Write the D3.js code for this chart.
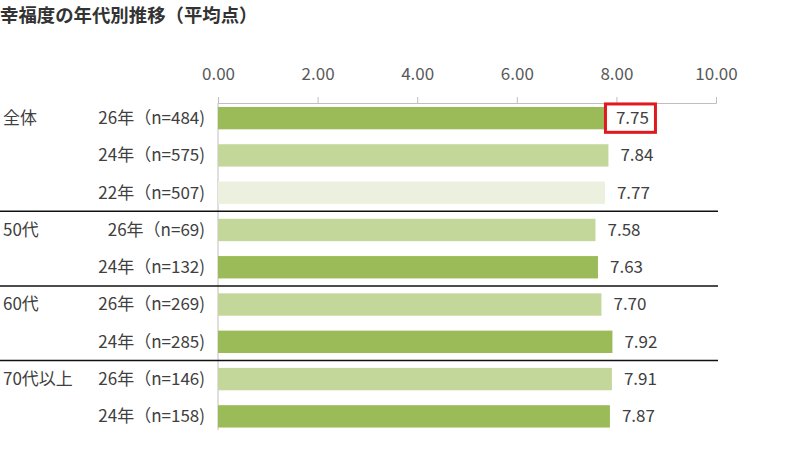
<!DOCTYPE html>
<html><head><meta charset="utf-8">
<script src="https://cdn.jsdelivr.net/npm/d3@7"></script>
<style>body{margin:0;background:#fff;}svg{display:block;font-family:"Noto Sans CJK JP","Noto Sans",sans-serif;}</style>
</head><body><svg id="c" width="800" height="450"></svg>
<script>
const title = "幸福度の年代別推移（平均点）";
const groups = ["全体", "全体", "全体", "50代", "50代", "60代", "60代", "70代以上", "70代以上"];
const rowLabels = ["26年（n=484)", "24年（n=575)", "22年（n=507)", "26年（n=69)", "24年（n=132)", "26年（n=269)", "24年（n=285)", "26年（n=146)", "24年（n=158)"];
const values = [7.75, 7.84, 7.77, 7.58, 7.63, 7.70, 7.92, 7.91, 7.87];
const shade = ["dark", "light", "pale", "light", "dark", "light", "dark", "light", "dark"];
const ticks = [0, 2, 4, 6, 8, 10];
const highlighted = [0];

const colors = {dark: "#9bbb59", light: "#c4d79b", pale: "#ebf1de"};
const txt = "#404040";
const svg = d3.select("#c");
const x = d3.scaleLinear().domain([0, 10]).range([218, 716]);
const idx = d3.range(values.length);
const y = d3.scaleBand().domain(idx).range([99.5, 435]).paddingInner(0.4).paddingOuter(0.2);

svg.append("text").attr("x", 0).attr("y", 22).attr("font-size", 18.4).attr("font-weight", 700)
  .attr("fill", "#333").text(title);

// axis
const ax = svg.append("g").attr("transform", "translate(0,103)")
  .call(d3.axisTop(x).tickValues(ticks).tickSize(6).tickPadding(17).tickFormat(d3.format(".2f")));
ax.select(".domain").attr("stroke", "#bfbfbf");
ax.selectAll(".tick line").attr("stroke", "#bfbfbf");
ax.selectAll(".tick text").attr("font-size", 17).attr("fill", "#595959")
  .attr("font-family", "'Noto Sans CJK JP','Noto Sans',sans-serif");

// vertical axis line
svg.append("line").attr("x1", x(0)).attr("x2", x(0)).attr("y1", 103).attr("y2", 430)
  .attr("stroke", "#bfbfbf");

// bars
svg.selectAll("rect.bar").data(idx).join("rect").attr("class", "bar")
  .attr("x", x(0)).attr("y", i => y(i)).attr("height", y.bandwidth())
  .attr("width", i => x(values[i]) - x(0)).attr("fill", i => colors[shade[i]]);

// value labels
svg.selectAll("text.val").data(idx).join("text").attr("class", "val")
  .attr("x", i => x(values[i]) + 12).attr("y", i => y(i) + y.bandwidth() / 2)
  .attr("dy", "0.35em").attr("font-size", 17).attr("fill", txt)
  .text(i => values[i].toFixed(2));

// highlight box
highlighted.forEach(i => {
  svg.append("rect").attr("x", x(values[i]) + 1.5).attr("y", y(i) - 3)
    .attr("width", 50).attr("height", y.bandwidth() + 6)
    .attr("fill", "none").attr("stroke", "#e0191e").attr("stroke-width", 3);
});

// row labels
svg.selectAll("text.row").data(idx).join("text").attr("class", "row")
  .attr("x", 205).attr("y", i => y(i) + y.bandwidth() / 2).attr("dy", "0.35em")
  .attr("text-anchor", "end").attr("font-size", 17).attr("fill", txt)
  .text(i => rowLabels[i]);

// group labels and separators
idx.forEach(i => {
  if (i === 0 || groups[i] !== groups[i - 1]) {
    svg.append("text").attr("x", 3).attr("y", y(i) + y.bandwidth() / 2).attr("dy", "0.35em")
      .attr("font-size", 17).attr("fill", txt).text(groups[i]);
    if (i > 0) {
      const yy = y(i) - y.step() * y.paddingInner() / 2;
      svg.append("line").attr("x1", 0).attr("x2", 718).attr("y1", yy).attr("y2", yy)
        .attr("stroke", "#111").attr("stroke-width", 1.5);
    }
  }
});
</script></body></html>
